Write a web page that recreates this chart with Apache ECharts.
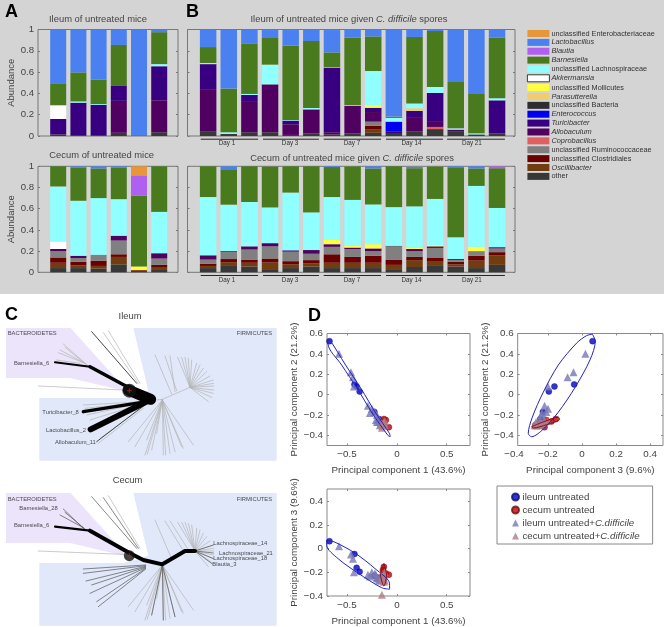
<!DOCTYPE html>
<html><head><meta charset="utf-8">
<script src="https://cdn.jsdelivr.net/npm/echarts@6/dist/echarts.min.js"></script>
<style>html,body{margin:0;padding:0;background:#fff}#c{width:664px;height:627px}</style>
</head><body><div id="c"></div>
<script>
// ---------- taxa (stack order bottom -> top; legend is top -> bottom)
const taxa = ['other','Oscillibacter','unclassified Clostridiales','unclassified Ruminococcaceae','Coprobacillus','Allobaculum','Turicibacter','Enterococcus','unclassified Bacteria','Parasutterella','Clostridium difficile','unclassified Mollicutes','Akkermansia','unclassified Lachnospiraceae','Barnesiella','Blautia','Lactobacillus','unclassified Enterobacteriaceae'];
const taxaColors = ['#383838','#703c10','#6a0000','#808080','#e06060','#500060','#380080','#0000f0','#2e2e2e','#f0cc70','#e00000','#ffff40','#ffffff','#90ffff','#4a7a1e','#b060f0','#4a80f0','#e8963a'];
const italicTaxa = ['Oscillibacter','Coprobacillus','Allobaculum','Turicibacter','Enterococcus','Parasutterella','Clostridium difficile','Akkermansia','Barnesiella','Blautia','Lactobacillus'];

// ---------- bar values per panel
const ileumUntreated = {
  'Lactobacillus':[.505,.403,.47,.145,.995,.025],
  'Barnesiella':[.205,.272,.23,.385,0,.30],
  'unclassified Lachnospiraceae':[.005,.012,.007,0,0,.02],
  'Akkermansia':[.125,0,0,0,0,0],
  'Turicibacter':[.145,.31,.285,.14,0,.32],
  'Allobaculum':[0,0,0,.30,0,.30],
  'other':[.015,.003,.008,.03,.005,.035]
};
const cecumUntreated = {
  'unclassified Enterobacteriaceae':[0,0,0,0,.085,0],
  'Lactobacillus':[0,.012,.02,.01,0,0],
  'Blautia':[0,0,0,0,.19,0],
  'Barnesiella':[.19,.315,.28,.30,.67,.43],
  'unclassified Lachnospiraceae':[.52,.52,.535,.345,0,.39],
  'Akkermansia':[.07,0,0,0,0,0],
  'unclassified Mollicutes':[0,0,0,0,.035,0],
  'Allobaculum':[.02,.02,0,.045,0,.05],
  'unclassified Ruminococcaceae':[.06,.035,.055,.13,0,.06],
  'unclassified Clostridiales':[.05,.035,.05,.025,.015,.02],
  'Oscillibacter':[.05,.025,.025,.07,0,.02],
  'other':[.04,.04,.035,.075,.005,.03]
};
const ileumSpores = {
  'Lactobacillus':[.165,.55,.135,.075,.145,.108,.21,.075,.065,.815,.07,.015,.49,.605,.075],
  'Barnesiella':[.15,.41,.47,.25,.70,.63,.14,.635,.325,.012,.625,.525,.435,.37,.57],
  'unclassified Lachnospiraceae':[.01,.015,.01,.185,.005,.012,.005,.005,.32,.035,.045,.055,.012,.01,.02],
  'unclassified Mollicutes':[0,0,0,0,0,0,0,0,.025,0,0,0,0,0,0],
  'Parasutterella':[0,0,0,0,0,0,0,0,0,0,.025,0,0,0,0],
  'Enterococcus':[0,0,0,0,0,0,0,0,0,.09,0,0,0,0,0],
  'Turicibacter':[.235,0,.065,0,.035,0,.605,0,.04,.025,.065,.265,0,0,.31],
  'Allobaculum':[.40,0,.285,.45,.10,.225,.02,.26,.09,0,.125,.055,.02,0,0],
  'Coprobacillus':[0,0,0,0,0,0,0,0,0,0,0,.02,0,0,0],
  'unclassified Ruminococcaceae':[0,0,0,0,0,0,0,0,.04,0,0,0,0,0,0],
  'unclassified Clostridiales':[0,0,0,0,0,0,0,0,.035,0,0,0,0,0,0],
  'Oscillibacter':[0,0,0,0,0,0,0,0,.03,0,0,0,0,0,0],
  'other':[.04,.02,.035,.035,.01,.025,.015,.025,.03,.02,.045,.065,.04,.015,.025]
};
const cecumSpores = {
  'Blautia':[0,0,0,0,0,0,0,0,0,0,0,0,0,0,.02],
  'Lactobacillus':[0,.035,0,0,0,0,.007,0,.02,0,.012,0,.01,.02,0],
  'Barnesiella':[.29,.327,.34,.385,.25,.435,.283,.315,.34,.385,.36,.305,.66,.165,.375],
  'unclassified Lachnospiraceae':[.55,.437,.418,.337,.545,.355,.405,.43,.375,.365,.39,.435,.205,.575,.37],
  'unclassified Mollicutes':[0,0,0,0,0,0,.04,.02,.04,0,.012,.012,0,.04,0],
  'Allobaculum':[.04,0,.03,.03,0,.035,.025,.013,.025,0,.02,.015,0,0,.012],
  'Turicibacter':[0,.006,0,0,.012,0,0,0,0,0,0,0,0,0,0],
  'unclassified Bacteria':[0,0,0,0,0,0,0,0,0,.005,0,0,.01,0,0],
  'unclassified Ruminococcaceae':[.04,.07,.095,.115,.09,.06,.07,.075,.045,.125,.055,.095,.015,.045,.035],
  'unclassified Clostridiales':[.02,.03,.03,.035,.03,.03,.08,.055,.065,.05,.03,.035,.025,.045,.03],
  'Oscillibacter':[.02,.035,.035,.065,.035,.03,.05,.05,.05,.04,.065,.04,.02,.07,.09],
  'other':[.04,.06,.055,.03,.04,.055,.04,.04,.04,.03,.05,.06,.055,.04,.07]
};

// ---------- day groups under panel B (in bar-number units)
const dayLabels = ['Day 1','Day 3','Day 7','Day 14','Day 21'];
const dayStart = [.64,3.66,6.6,9.62,12.58];
const dayEnd = [3.42,6.37,9.38,12.38,15.38];
const dayLabelAt = [1.91,4.97,7.97,10.85,13.78];

// ---------- PCA scores [PC1, PC2, PC3]
const ileumUntreatedPCA = [[-.675,.525,.062],[-.425,.10,-.046],[-.403,.08,-.162],[-.373,.03,-.195],[-.225,-.17,-.23],[-.18,-.24,-.245]];
const cecumUntreatedPCA = [[-.13,-.24,-.154],[-.14,-.265,-.18],[-.11,-.25,-.21],[-.08,-.32,-.22],[-.15,-.28,-.25],[-.13,-.30,-.275]];
const ileumSporesPCA = [[-.58,.40,.02],[-.46,.22,-.05],[-.44,.17,-.085],[-.43,.08,-.20],[-.29,-.11,-.22],[-.25,-.14,-.2],[-.22,-.17,-.21],[-.27,-.18,-.235],[-.2,-.2,-.24],[-.19,-.24,-.25],[-.2,-.27,-.25],[-.18,-.27,-.27],[-.17,-.3,-.24],[-.16,-.28,-.26],[-.21,-.25,-.22]];
const cecumSporesPCA = [[-.15,-.325,-.39],[-.13,-.30,-.28],[-.14,-.29,-.25],[-.15,-.28,-.24],[-.13,-.27,-.22],[-.12,-.26,-.2],[-.14,-.30,-.26],[-.13,-.28,-.23],[-.15,-.30,-.27],[-.12,-.30,-.27]];
// confidence outlines
const outlinePC1PC2 = [[-.69,.545],[-.66,.52],[-.52,.30],[-.36,.06],[-.207,-.188],[-.075,-.38],[-.067,-.413],[-.09,-.40],[-.247,-.182],[-.397,.06],[-.553,.29],[-.69,.50],[-.69,.545]];
const outlinePC3PC2 = [[.061,.593],[.078,.523],[.047,.341],[-.041,.07],[-.139,-.172],[-.227,-.338],[-.296,-.414],[-.316,-.381],[-.292,-.222],[-.227,.026],[-.139,.291],[-.031,.507],[.027,.579],[.061,.593]];
const outlinePC1PC3 = [[-.703,.07],[-.62,.054],[-.42,-.038],[-.22,-.168],[-.073,-.297],[-.073,-.343],[-.153,-.33],[-.387,-.208],[-.587,-.086],[-.703,.027],[-.703,.07]];
const cecumOutlinePC3PC2 = [[-.296,-.315],[-.218,-.262],[-.139,-.222],[-.131,-.242],[-.208,-.295],[-.286,-.328],[-.296,-.315]];
const cecumOutlinePC1PC3 = [[-.13,-.127],[-.103,-.222],[-.13,-.316],[-.163,-.222],[-.13,-.127]];

// ---------- trees, polylines as x1,y1,x2,y2,... in tree space
const bacteroidetesArea = [18,84,212,84,372,262,372,272,210,234,18,234];
const firmicutesArea = [400,84,830,84,830,482,118,482,118,294,372,294,445,272];
const fanEnds = [[640,240],[641,250],[641,258],[641,270],[640,280],[635,292],[625,305],[630,228],[620,215],[610,205],[600,195],[590,190],[575,180],[565,175],[555,172],[545,172],[533,172]];
const lowFanEnds = [[385,425],[405,440],[435,465],[442,462],[455,450],[490,465],[497,465],[510,460],[525,455],[550,445],[580,435],[545,440],[470,400],[440,420]];

const ileumThin = [[465,300,487,298,570,262],[510,168,525,275],[495,168,530,272],[465,165,515,282],[310,98,415,250],[325,92,420,250],[115,258,370,270],[190,132,265,198],[180,150,255,190],[175,158,250,188],[195,142,260,195],[170,180,240,190],[250,315,430,305],[255,325,430,307],[260,345,430,308],[280,380,430,312],[270,360,430,310],[300,415,430,320],[295,430,430,325]]
  .concat(fanEnds.map(e=>[570,262,e[0],e[1]])).concat(lowFanEnds.map(e=>[487,300,e[0],e[1]]));
const ileumDark = [[275,95,410,250],[290,425,430,318]];
const ileumThick1 = [[165,187,270,200]];
const ileumThick2 = [[270,200,390,265],[250,335,440,305]];
const ileumThick3 = [[272,388,440,305]];
const ileumThick4 = [[385,270,452,298]];

const cecumThin = [[510,168,570,262],[495,168,555,265],[465,165,515,282],[325,92,420,250],[115,258,370,268]].concat(fanEnds.map(e=>[585,258,e[0],e[1]])).concat(lowFanEnds.map(e=>[487,300,e[0],e[1]]));
const cecumDark = [[275,95,410,250],[310,98,415,250],[190,132,250,190],[195,142,255,192],[180,150,250,188],[250,312,437,300],[250,325,437,302],[258,348,437,304],[275,360,437,306],[270,385,437,308],[290,410,437,310],[295,425,437,312],[640,240,585,258],[640,281,585,258],[640,264,585,258],[637,297,585,258],[455,450,487,300],[490,465,487,300],[525,455,487,300]];
const cecumThick1 = [[165,185,270,197]];
const cecumThick2 = [[270,197,390,265,430,285,487,298,555,258,585,258]];
const treeHub = [[388,272]];
const ileumLabels = [['BACTEROIDETES',23,101],['FIRMICUTES',710,101],['Barnesiella_6',42,189],['Turicibacter_8',127,338],['Lactobacillus_2',138,392],['Allobaculum_11',165,427]];
const cecumLabels = [['BACTEROIDETES',23,102],['FIRMICUTES',710,102],['Barnesiella_28',58,131],['Barnesiella_6',42,181],['Lachnospiraceae_14',640,235],['Lachnospiraceae_21',657,264],['Lachnospiraceae_18',640,281],['Blautia_3',637,297]];

// ---------- option building
const FONT = '"Liberation Sans",Arial,sans-serif', INK = '#444';
const grid=[], xAxis=[], yAxis=[], series=[];
const box = {show:true,borderColor:'#777',borderWidth:1,backgroundColor:'transparent'};

function barPanel(left,top,w,h,n,xMax,table,barW,showLabels,yName){
  const g=grid.length;
  grid.push({left,top,width:w,height:h,...box});
  const xi=xAxis.length, yi=yAxis.length;
  xAxis.push({gridIndex:g,type:'value',min:0,max:xMax,show:false});
  const tick={show:true,inside:true,length:2,lineStyle:{color:'#777',width:1}};
  yAxis.push({gridIndex:g,type:'value',min:0,max:1,interval:.2,position:'left',splitLine:{show:false},axisLine:{show:false},axisTick:tick,
    axisLabel:{show:showLabels,margin:4,fontSize:9.6,color:INK,fontFamily:FONT},
    name:yName||'',nameLocation:'middle',nameGap:22,nameTextStyle:{fontSize:9.5,color:INK,fontFamily:FONT}});
  yAxis.push({gridIndex:g,type:'value',min:0,max:1,interval:.2,position:'right',splitLine:{show:false},axisLine:{show:false},axisTick:tick,axisLabel:{show:false}});
  taxa.forEach((t,k)=>{
    const vals=table[t]; if(!vals) return;
    series.push({type:'bar',name:t,xAxisIndex:xi,yAxisIndex:yi,stack:'p'+g,barWidth:barW,
      itemStyle:{color:taxaColors[k]},silent:true,animation:false,
      encode:{x:1,y:0},
      data:vals.map((v,i)=>[v,i+1])});
  });
  return {xi,yi};
}
const A1=barPanel(38,29.5,140,106.5,6,6.93,ileumUntreated,16,true,'Abundance');
const A2=barPanel(38,166.3,140,106,6,6.93,cecumUntreated,16,true,'Abundance');
const B1=barPanel(187.5,29.5,327.5,106.5,15,15.87,ileumSpores,16.5,false);
const B2=barPanel(187.5,166.3,327.5,106,15,15.87,cecumSpores,16.5,false);

function dayBrackets(ax){
  series.push({type:'custom',xAxisIndex:ax.xi,yAxisIndex:ax.yi,silent:true,animation:false,
    data:dayLabels.map((d,i)=>[dayStart[i],0]),
    renderItem:(p,api)=>{
      const i=p.dataIndex,a=api.coord([dayStart[i],-.03]),b=api.coord([dayEnd[i],-.03]),c=api.coord([dayLabelAt[i],-.072]);
      return {type:'group',children:[
        {type:'line',shape:{x1:a[0],y1:a[1],x2:b[0],y2:b[1]},style:{stroke:'#222',lineWidth:1}},
        {type:'text',style:{text:dayLabels[i],x:c[0],y:c[1],align:'center',verticalAlign:'middle',fontSize:6.3,fill:'#333',fontFamily:FONT}}
      ]};
    }});
}
dayBrackets(B1); dayBrackets(B2);

// trees
function treeAxes(top,h,yMax){
  const g=grid.length;
  grid.push({left:0,top,width:280,height:h,show:false});
  xAxis.push({gridIndex:g,type:'value',min:0,max:840,show:false});
  yAxis.push({gridIndex:g,type:'value',min:0,max:yMax,inverse:true,show:false});
  return {xi:xAxis.length-1,yi:yAxis.length-1};
}
function polyPts(f,api){const p=[];for(let i=0;i<f.length;i+=2)p.push(api.coord([f[i],f[i+1]]));return p;}
function area(ax,f,fill){
  series.push({type:'custom',xAxisIndex:ax.xi,yAxisIndex:ax.yi,silent:true,animation:false,z:1,data:[[f[0],f[1]]],
    renderItem:(p,api)=>({type:'polygon',shape:{points:polyPts(f,api)},style:{fill}})});
}
function branches(ax,list,width,color,z){
  series.push({type:'custom',xAxisIndex:ax.xi,yAxisIndex:ax.yi,silent:true,animation:false,z:z||2,data:list.map(b=>[b[0],b[1]]),
    renderItem:(p,api)=>({type:'polyline',shape:{points:polyPts(list[p.dataIndex],api)},style:{stroke:color,lineWidth:width,lineCap:'round',lineJoin:'round',fill:null}})});
}
function hub(ax,size){
  series.push({type:'scatter',xAxisIndex:ax.xi,yAxisIndex:ax.yi,silent:true,animation:false,z:4,symbolSize:size,itemStyle:{color:'#111'},data:treeHub});
  series.push({type:'scatter',xAxisIndex:ax.xi,yAxisIndex:ax.yi,silent:true,animation:false,z:5,symbol:'path://M4 0h2v4h4v2h-4v4h-2v-4h-4v-2h4z',symbolSize:5,itemStyle:{color:'#c02020'},data:treeHub});
}
function treeLabels(ax,list){
  series.push({type:'scatter',xAxisIndex:ax.xi,yAxisIndex:ax.yi,silent:true,animation:false,z:6,symbolSize:0,
    data:list.map(l=>({name:l[0],value:[l[1],l[2]]})),
    label:{show:true,formatter:'{b}',position:[0,0],align:'left',verticalAlign:'middle',fontSize:5.8,color:'#222',fontFamily:FONT}});
}
const T1=treeAxes(300,165,495), T2=treeAxes(465,162,486);
[T1,T2].forEach(t=>{area(t,bacteroidetesArea,'#ece4fa');area(t,firmicutesArea,'#e0e8fa');});
branches(T1,ileumThin,.7,'#b4b4b4');branches(T1,ileumDark,.9,'#333');
branches(T1,ileumThick1,2,'#000',3);branches(T1,ileumThick2,3.4,'#000',3);branches(T1,ileumThick3,6,'#000',3);branches(T1,ileumThick4,11,'#000',3);
hub(T1,14);treeLabels(T1,ileumLabels);
branches(T2,cecumThin,.7,'#b4b4b4');branches(T2,cecumDark,.7,'#555');
branches(T2,cecumThick1,2.2,'#000',3);branches(T2,cecumThick2,4,'#000',3);
hub(T2,11);treeLabels(T2,cecumLabels);

// PCA plots
const minus=v=>String(v).replace('-','\u2212');
function pcaAxes(left,top,w,h,xMin,xMax,xTicks,yMin,yMax,yTicks,xName,yName){
  const g=grid.length;
  grid.push({left,top,width:w,height:h,show:true,borderColor:'#888',borderWidth:1,backgroundColor:'#fff'});
  const tick=(vals)=>({show:true,inside:true,length:2,customValues:vals,lineStyle:{color:'#888'}});
  const nameStyle={fontSize:9.8,color:INK,fontFamily:FONT};
  const xi=xAxis.length, yi=yAxis.length;
  xAxis.push({gridIndex:g,type:'value',min:xMin,max:xMax,position:'bottom',splitLine:{show:false},axisLine:{show:false,onZero:false},axisTick:tick(xTicks),
    axisLabel:{customValues:xTicks,formatter:minus,margin:4,fontSize:9.8,color:INK,fontFamily:FONT,showMinLabel:true,showMaxLabel:true},
    name:xName,nameLocation:'middle',nameGap:20,nameTextStyle:nameStyle});
  xAxis.push({gridIndex:g,type:'value',min:xMin,max:xMax,position:'top',splitLine:{show:false},axisLine:{show:false,onZero:false},axisTick:tick(xTicks),axisLabel:{show:false}});
  yAxis.push({gridIndex:g,type:'value',min:yMin,max:yMax,position:'left',splitLine:{show:false},axisLine:{show:false,onZero:false},axisTick:tick(yTicks),
    axisLabel:{customValues:yTicks,formatter:minus,margin:4,fontSize:9.8,color:INK,fontFamily:FONT,showMinLabel:true,showMaxLabel:true},
    name:yName,nameLocation:'middle',nameGap:23,nameTextStyle:nameStyle});
  yAxis.push({gridIndex:g,type:'value',min:yMin,max:yMax,position:'right',splitLine:{show:false},axisLine:{show:false,onZero:false},axisTick:tick(yTicks),axisLabel:{show:false}});
  return {xi,yi};
}
function pcaSeries(ax,a,b,outline,cecumOutline){
  const pick=arr=>arr.map(r=>[r[a],r[b]]);
  const common={type:'scatter',xAxisIndex:ax.xi,yAxisIndex:ax.yi,silent:true,animation:false};
  const ring={type:'line',xAxisIndex:ax.xi,yAxisIndex:ax.yi,silent:true,animation:false,z:5,symbol:'none',smooth:.3,clip:false};
  series.push({...common,name:'ileum untreated',z:3,symbolSize:6,itemStyle:{color:'#0000cc',borderColor:'#10106a',borderWidth:.5},data:pick(ileumUntreatedPCA)});
  series.push({...common,name:'cecum untreated',z:3,symbolSize:6,itemStyle:{color:'#c00000',borderColor:'#701010',borderWidth:.5},data:pick(cecumUntreatedPCA)});
  series.push({...common,name:'ileum untreated+C.difficile',z:4,symbol:'triangle',symbolSize:8,itemStyle:{color:'#7878b4',opacity:.8},data:pick(ileumSporesPCA)});
  series.push({...common,name:'cecum untreated+C.difficile',z:4,symbol:'triangle',symbolSize:8,itemStyle:{color:'#b07c84',opacity:.8},data:pick(cecumSporesPCA)});
  series.push({...ring,lineStyle:{color:'#2222c0',width:1},data:outline});
  if(cecumOutline) series.push({...ring,lineStyle:{color:'#801020',width:1},data:cecumOutline});
}
const n1='Principal component 1 (43.6%)',n2='Principal component 2 (21.2%)',n3='Principal component 3 (9.6%)';
const tick1=[-.5,0,.5],tickY=[-.4,-.2,0,.2,.4,.6],tick3=[-.4,-.2,0,.2,.4];
pcaSeries(pcaAxes(327,333.5,143,112,-.7,.733,tick1,-.5,.6,tickY,n1,n2),0,1,outlinePC1PC2);
pcaSeries(pcaAxes(517.7,333.5,145.3,112,-.378,.476,tick3.slice(1),-.5,.6,tickY,n3,n2),2,1,outlinePC3PC2,cecumOutlinePC3PC2);
pcaSeries(pcaAxes(327,489,143,111.7,-.7,.733,tick1,-.4,.503,tick3,n1,n3),0,2,outlinePC1PC3,cecumOutlinePC1PC3);

const rich={i:{fontStyle:'italic',fontSize:7.4,color:'#333',lineHeight:7,fontFamily:FONT}};
const option={
  animation:false,
  textStyle:{fontFamily:FONT},
  graphic:[
    {type:'rect',z:-5,silent:true,shape:{x:0,y:0,width:664,height:294},style:{fill:'#d4d4d4'}},
    {type:'text',silent:true,z:5,style:{text:'\u22120.4',x:514,y:454,align:'center',verticalAlign:'middle',fontSize:9.8,fill:INK,fontFamily:FONT}}
  ],
  title:[
    ...[['A',5,12],['B',186,12],['C',5,315],['D',308,316]].map(l=>({text:l[0],left:l[1],top:l[2],textVerticalAlign:'middle',padding:0,textStyle:{fontSize:18,fontWeight:'bold',color:'#000',fontFamily:FONT}})),
    ...[['Ileum of untreated mice',98,19],['Cecum of untreated mice',101.7,155.3],['Ileum of untreated mice given {i|C. difficile} spores',349,19.3],['Cecum of untreated mice given {i|C. difficile} spores',352,158],['Ileum',130,316.7],['Cecum',127.5,480.7]].map(t=>({text:t[0],left:t[1],top:t[2],textAlign:'center',textVerticalAlign:'middle',padding:0,
      textStyle:{fontSize:9.4,fontWeight:'normal',color:INK,fontFamily:FONT,rich:{i:{fontStyle:'italic',fontSize:9.4,color:INK,fontFamily:FONT}}}}))
  ],
  legend:[
    {orient:'vertical',left:527,top:30,padding:0,itemWidth:22,itemHeight:7,itemGap:1.88,selectedMode:false,icon:'rect',
     data:taxa.slice().reverse().map(t=>t==='Akkermansia'?{name:t,itemStyle:{color:'#fff',borderColor:'#111',borderWidth:.8}}:{name:t}),
     formatter:n=>italicTaxa.includes(n)?'{i|'+n+'}':n,
     textStyle:{fontSize:7.3,color:'#333',lineHeight:7,padding:[0,0,0,-3],fontFamily:FONT,rich}},
    {orient:'vertical',left:497,top:486,padding:[6,13,3,14],itemWidth:7,itemHeight:7,itemGap:3,selectedMode:false,
     borderColor:'#888',borderWidth:1,backgroundColor:'#fff',
     data:['ileum untreated','cecum untreated','ileum untreated+C.difficile','cecum untreated+C.difficile'],
     formatter:n=>n.replace('C.difficile','{i|C.difficile}'),
     textStyle:{fontSize:9.7,color:INK,padding:[0,0,0,-1.5],fontFamily:FONT,rich:{i:{fontStyle:'italic',fontSize:9.7,color:INK,fontFamily:FONT}}}}
  ],
  grid,xAxis,yAxis,series
};
const chart=echarts.init(document.getElementById('c'),null,{renderer:'canvas'});
chart.setOption(option);
</script></body></html>
